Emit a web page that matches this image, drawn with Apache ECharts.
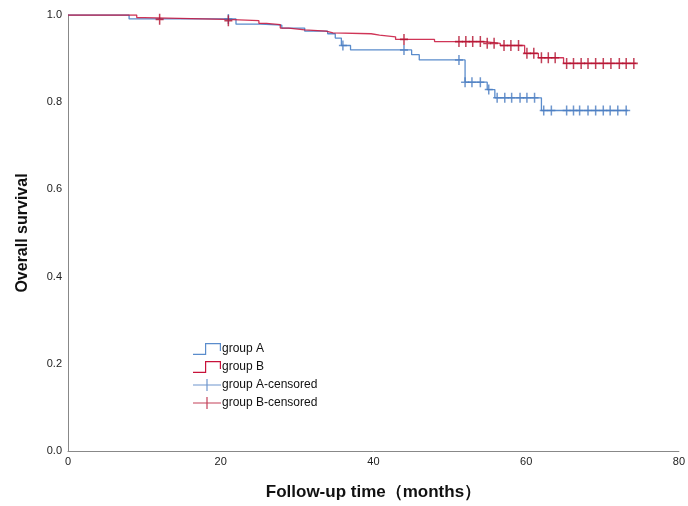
<!DOCTYPE html>
<html>
<head>
<meta charset="utf-8">
<script src="https://cdn.jsdelivr.net/npm/echarts@6/dist/echarts.min.js"></script>
<style>
html,body{margin:0;padding:0;background:#fff;}
#chart{width:688px;height:506px;}
</style>
</head>
<body>
<div id="chart"></div>
<script>
// Kaplan-Meier step data: [time (months), survival after that time]
var stepsA = [[0,1.0],[8,0.991],[22,0.979],[25.2,0.977],[28,0.970],[31,0.963],[34,0.957],[35,0.947],[35.8,0.930],[37,0.920],[45,0.909],[46,0.897],[52,0.846],[54.9,0.829],[55.9,0.810],[62,0.781],[73.3,0.781]];
var stepsB = [[0,1.0],[9,0.994],[10,0.990],[20.7,0.987],[25,0.981],[26,0.978],[27.8,0.970],[28.9,0.966],[31,0.963],[33.8,0.959],[34.7,0.957],[39.7,0.954],[40.8,0.950],[42.9,0.944],[48,0.939],[54.6,0.935],[56.6,0.930],[59.8,0.912],[61.6,0.902],[64.9,0.889],[74.4,0.889]];
// Censored observations: [time, survival]
var censA = [[21,0.991],[36,0.930],[44,0.920],[51.2,0.897],[52.0,0.846],[52.9,0.846],[54.0,0.846],[55.1,0.829],[56.2,0.810],[57.2,0.810],[58.1,0.810],[59.2,0.810],[60.1,0.810],[61.1,0.810],[62.3,0.781],[63.3,0.781],[65.3,0.781],[66.2,0.781],[67.0,0.781],[68.1,0.781],[69.1,0.781],[70.1,0.781],[71.0,0.781],[72.0,0.781],[73.1,0.781]];
var censB = [[12,0.990],[21,0.987],[44,0.944],[51.2,0.939],[52.1,0.939],[53.0,0.939],[54.0,0.939],[54.9,0.935],[55.8,0.935],[57.1,0.930],[58.0,0.930],[59.0,0.930],[60.1,0.912],[61.0,0.912],[62.0,0.902],[62.9,0.902],[63.8,0.902],[65.3,0.889],[66.2,0.889],[67.2,0.889],[68.1,0.889],[69.1,0.889],[70.1,0.889],[71.1,0.889],[72.2,0.889],[73.1,0.889],[74.1,0.889]];
var seriesNames = ['group A','group B','group A-censored','group B-censored'];
var xTicks = [0,20,40,60,80];

var crossPath = 'path://M6.5,0H9.5V6.8H16V9.2H9.5V16H6.5V9.2H0V6.8H6.5Z';
var stepIcon = 'path://M0,10.6H12V0H28V8H26.8V1.2H13.2V11.8H0Z';
var crossIcon = 'path://M0,5.4H13.4V0H14.6V5.4H28V6.6H14.6V12H13.4V6.6H0Z';

var chart = echarts.init(document.getElementById('chart'));
chart.setOption({
  animation:false,
  backgroundColor:'#fff',
  textStyle:{fontFamily:'Liberation Sans, Arial, sans-serif'},
  grid:{left:68,right:3,top:15,bottom:53},
  legend:{
    orient:'vertical', left:188, top:338, itemWidth:28, itemHeight:12, itemGap:6,
    textStyle:{fontSize:12,color:'#111',padding:[0,0,0,-4]},
    data:[
      {name:seriesNames[0],icon:stepIcon},
      {name:seriesNames[1],icon:stepIcon},
      {name:seriesNames[2],icon:crossIcon},
      {name:seriesNames[3],icon:crossIcon}
    ]
  },
  xAxis:{
    type:'value', min:xTicks[0], max:xTicks[xTicks.length-1], interval:20,
    name:'Follow-up time（months）', nameLocation:'middle', nameGap:33,
    nameTextStyle:{fontSize:17,fontWeight:'bold',color:'#111'},
    axisLine:{lineStyle:{color:'#888',width:1}},
    axisTick:{show:false},
    axisLabel:{fontSize:11,color:'#222',margin:5},
    splitLine:{show:false}
  },
  yAxis:{
    type:'value', min:0, max:1, interval:0.2,
    name:'Overall survival', nameLocation:'middle', nameGap:37,
    nameTextStyle:{fontSize:16,fontWeight:'bold',color:'#111'},
    axisLine:{show:true,lineStyle:{color:'#888',width:1}},
    axisTick:{show:false},
    axisLabel:{fontSize:11,color:'#222',margin:6,formatter:function(v){return v.toFixed(1);}},
    splitLine:{show:false}
  },
  series:[
    {name:seriesNames[0],type:'line',step:'end',data:stepsA,showSymbol:false,symbol:'none',
     lineStyle:{color:'#5a8ccc',width:1.3},itemStyle:{color:'#5a8ccc'},z:2},
    {name:seriesNames[1],type:'line',step:'end',data:stepsB,showSymbol:false,symbol:'none',
     lineStyle:{color:'#c8123a',width:1.3,opacity:0.85},itemStyle:{color:'#c8123a'},z:3},
    {name:seriesNames[2],type:'scatter',data:censA,symbol:crossPath,symbolSize:[8,10],
     itemStyle:{color:'#4a7cc0'},z:4},
    {name:seriesNames[3],type:'scatter',data:censB,symbol:crossPath,symbolSize:[8,11],
     itemStyle:{color:'#b3102e'},z:5}
  ]
});
</script>
</body>
</html>
